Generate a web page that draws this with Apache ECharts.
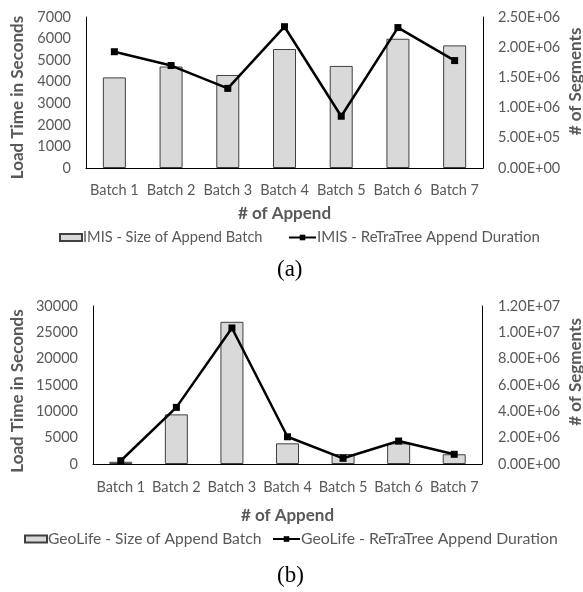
<!DOCTYPE html>
<html>
<head>
<meta charset="utf-8">
<script src="https://cdn.jsdelivr.net/npm/echarts@6/dist/echarts.min.js"></script>
<style>
  html, body { margin: 0; padding: 0; background: #fff; }
  #chart { width: 583px; height: 592px; }
</style>
</head>
<body>
<div id="chart"></div>
<script>
// Append batches
const batches = ['Batch 1', 'Batch 2', 'Batch 3', 'Batch 4', 'Batch 5', 'Batch 6', 'Batch 7'];

// (a) IMIS
const imisSegments = [1.50e6, 1.68e6, 1.54e6, 1.97e6, 1.69e6, 2.14e6, 2.03e6];
const imisLoadTime = [5390, 4750, 3690, 6550, 2400, 6510, 4980];

// (b) GeoLife
const geoSegments = [1.7e5, 3.77e6, 1.08e7, 1.57e6, 7.6e5, 1.57e6, 7.4e5];
const geoLoadTime = [620, 10750, 25830, 5170, 1080, 4360, 1840];

const SANS = 'Lato';
const GREY = '#595959';

// Excel-style scientific labels, e.g. 2.50E+06
function sci(v) {
  if (v === 0) return '0.00E+00';
  const e = Math.floor(Math.log10(Math.abs(v)) + 1e-9);
  const m = v / Math.pow(10, e);
  return m.toFixed(2) + 'E+' + String(e).padStart(2, '0');
}
const plain = v => String(v);

function xAxisFor(gridIndex, labelMargin, nameGap) {
  return {
    type: 'category', gridIndex, data: batches,
    axisTick: { show: false },
    axisLine: { lineStyle: { color: '#000', width: 1 } },
    axisLabel: { color: GREY, fontFamily: SANS, fontSize: 14.5, margin: labelMargin, interval: 0 },
    name: '# of Append', nameLocation: 'middle', nameGap, nameMoveOverlap: false,
    nameTextStyle: { color: GREY, fontFamily: SANS, fontSize: 17, fontWeight: 'bold' }
  };
}

function leftAxis(gridIndex, max, interval, labelMargin, nameGap, namePad) {
  return {
    type: 'value', gridIndex, position: 'left', min: 0, max, interval,
    splitLine: { show: false },
    axisTick: { show: false },
    axisLine: { show: true, lineStyle: { color: '#000', width: 1 } },
    axisLabel: { color: GREY, fontFamily: SANS, fontSize: 14.5, margin: labelMargin, formatter: plain },
    name: 'Load Time in Seconds', nameLocation: 'middle', nameGap, nameMoveOverlap: false,
    nameTextStyle: { color: GREY, fontFamily: SANS, fontSize: 17, fontWeight: 'bold', padding: namePad }
  };
}

function rightAxis(gridIndex, max, interval, labelMargin, nameGap, namePad) {
  return {
    type: 'value', gridIndex, position: 'right', min: 0, max, interval,
    splitLine: { show: false },
    axisTick: { show: false },
    axisLine: { show: true, lineStyle: { color: '#000', width: 1 } },
    axisLabel: { color: GREY, fontFamily: SANS, fontSize: 14.5, margin: labelMargin, formatter: sci },
    name: '# of Segments', nameLocation: 'middle', nameGap, nameMoveOverlap: false,
    nameTextStyle: { color: GREY, fontFamily: SANS, fontSize: 17, fontWeight: 'bold', padding: namePad }
  };
}

const barStyle = { color: '#d9d9d9', borderColor: '#404040', borderWidth: 1 };
const lineStyle = { color: '#000', width: 2.5 };

function barLegend(name, left, top, size) {
  return {
    data: [{ name, icon: 'rect' }], left, top, padding: 0, itemWidth: 22, itemHeight: 7,
    textStyle: { color: GREY, fontFamily: SANS, fontSize: size, padding: [0, 0, 0, -4] }
  };
}
function lineLegend(name, left, top, size) {
  return {
    data: [name], left, top, padding: 0, itemWidth: 27, itemHeight: 7,
    textStyle: { color: GREY, fontFamily: SANS, fontSize: size, padding: [0, 0, 0, -4] }
  };
}

const option = {
  animation: false,
  backgroundColor: '#fff',
  grid: [
    { left: 86, right: 100, top: 17, height: 151, outerBoundsMode: 'none' },
    { left: 93, right: 101, top: 306, height: 158, outerBoundsMode: 'none' }
  ],
  xAxis: [xAxisFor(0, 15, 37), xAxisFor(1, 16, 43)],
  yAxis: [
    leftAxis(0, 7000, 1000, 15, 60, [0, 10, 0, 0]),
    rightAxis(0, 2.5e6, 5e5, 15, 84, [0, 0, 0, 22]),
    leftAxis(1, 30000, 5000, 15, 67, [0, 12, 0, 0]),
    rightAxis(1, 1.2e7, 2e6, 16, 85, [0, 0, 0, 26])
  ],
  legend: [
    barLegend('IMIS - Size of Append Batch', 59, 230, 14.6),
    lineLegend('IMIS - ReTraTree Append Duration', 288, 230, 15),
    barLegend('GeoLife - Size of Append Batch', 24, 531, 15.6),
    lineLegend('GeoLife - ReTraTree Append Duration', 272, 531, 15.8)
  ],
  graphic: [
    { type: 'text', left: 277, top: 258, style: { text: '(a)', font: '23px "Liberation Serif"', fill: '#000' } },
    { type: 'text', left: 277, top: 564, style: { text: '(b)', font: '23px "Liberation Serif"', fill: '#000' } }
  ],
  series: [
    {
      name: 'IMIS - Size of Append Batch', type: 'bar',
      xAxisIndex: 0, yAxisIndex: 1, data: imisSegments,
      barWidth: 23, itemStyle: barStyle
    },
    {
      name: 'IMIS - ReTraTree Append Duration', type: 'line',
      xAxisIndex: 0, yAxisIndex: 0, data: imisLoadTime,
      symbol: 'rect', symbolSize: 7, lineStyle, itemStyle: { color: '#000' }
    },
    {
      name: 'GeoLife - Size of Append Batch', type: 'bar',
      xAxisIndex: 1, yAxisIndex: 3, data: geoSegments,
      barWidth: 23, itemStyle: barStyle
    },
    {
      name: 'GeoLife - ReTraTree Append Duration', type: 'line',
      xAxisIndex: 1, yAxisIndex: 2, data: geoLoadTime,
      symbol: 'rect', symbolSize: 7, lineStyle, itemStyle: { color: '#000' }
    }
  ]
};

echarts.init(document.getElementById('chart'), null, { renderer: 'canvas' }).setOption(option);
</script>
</body>
</html>
